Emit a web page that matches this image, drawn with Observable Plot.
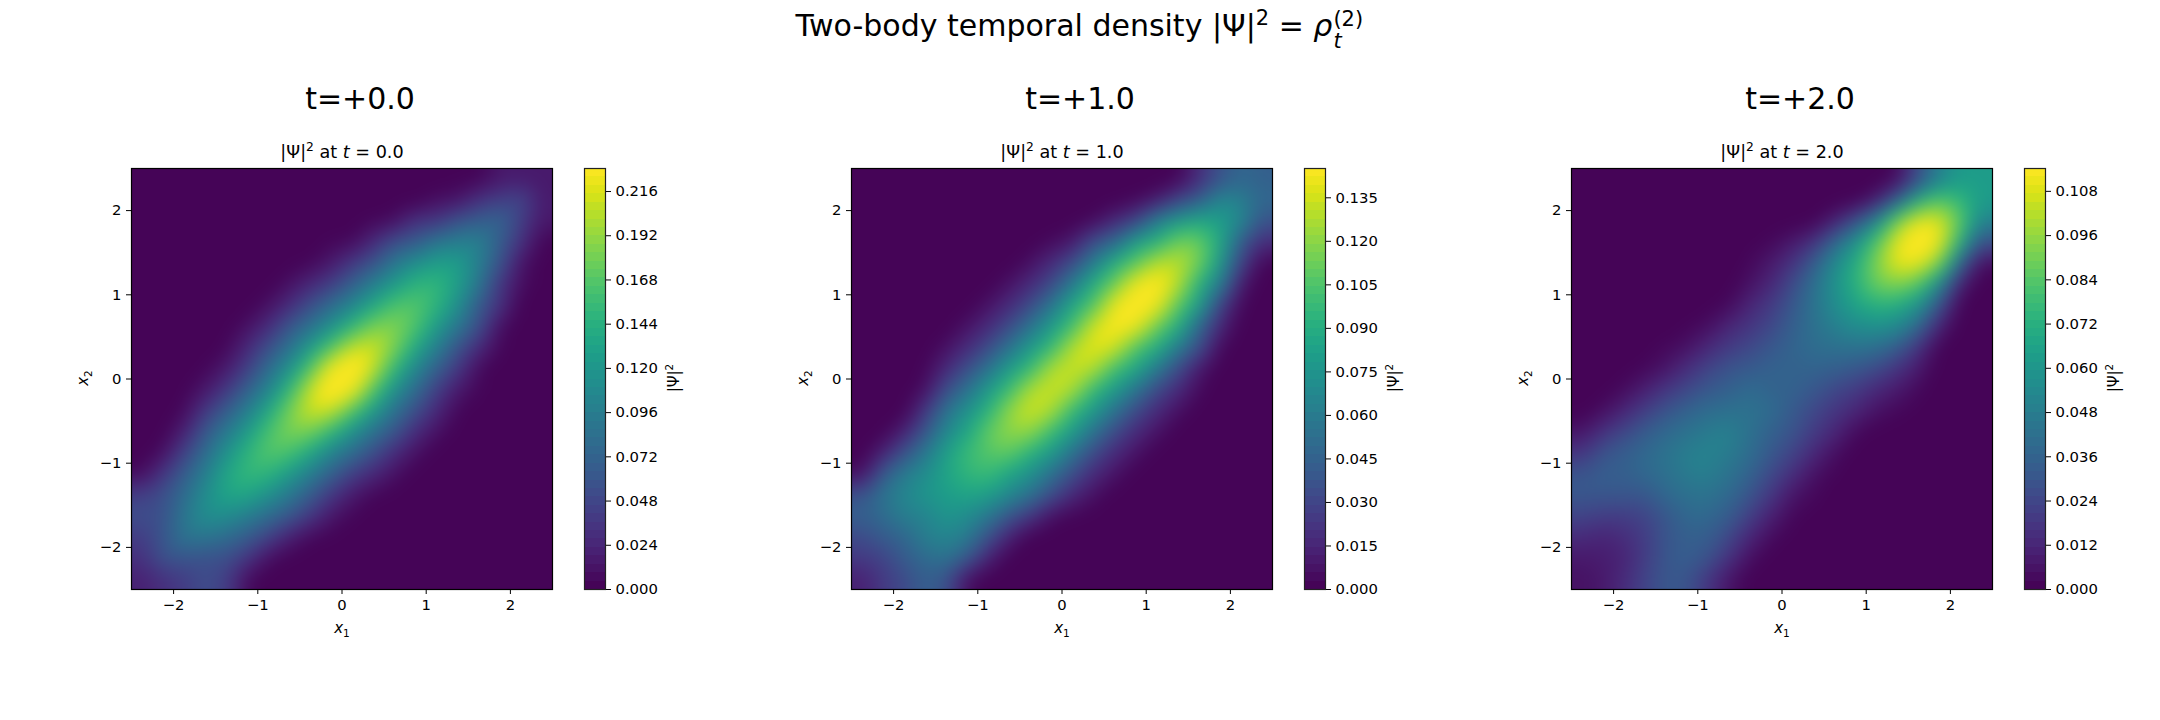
<!DOCTYPE html>
<html><head><meta charset="utf-8">
<script src="https://cdn.jsdelivr.net/npm/d3@7"></script>
<script src="https://cdn.jsdelivr.net/npm/@observablehq/plot@0.6"></script>
<style>
html,body{margin:0;padding:0;background:#fff;}
#page{position:relative;width:2160px;height:720px;overflow:hidden;font-family:"DejaVu Sans",sans-serif;color:#000;}
#page svg{position:absolute;overflow:visible;}
.t{position:absolute;white-space:nowrap;transform:translate(-50%,-50%);line-height:1;}
.r{transform:translate(-50%,-50%) rotate(-90deg);}
i{font-style:oblique;}
sup,sub{font-size:70%;line-height:0;}
</style></head><body><div id="page"></div>
<script>
// Density, in thousandths, on a 20×20 grid. The density mirrors across x1=x2, so each
// inner list is one off-diagonal band: list k holds the cells with |i-j|=k, ordered by the smaller index.
const bandsT0 = [
[22,55,85,110,132,150,165,180,208,240,240,208,182,165,148,125,97,70,45,15],
[33,60,88,110,132,146,160,178,205,225,205,180,162,146,126,96,66,42,18],
[42,58,80,97,114,124,135,150,166,166,150,136,124,112,88,58,33,16],
[52,55,66,80,92,97,104,116,124,116,106,98,90,66,38,15,5],
[42,36,45,61,66,70,80,86,86,80,70,60,54,33,11,3],
[10,12,22,37,38,44,55,60,55,44,38,28,12,2,0],
[1,3,8,15,17,26,29,29,26,17,9,6,2,0],
[0,1,3,5,6,11,11,11,6,5,1,0,0],
[0,0,1,1,2,2,2,2,1,0,0,0]];
const bandsT1 = [
[14,30,48,65,80,94,106,119,132,132,132,137,143,150,145,128,109,80,61,44],
[25,41,61,75,84,97,108,119,125,125,127,133,140,141,128,112,85,65,48],
[33,50,65,70,80,85,93,99,98,98,102,107,113,108,92,76,44,38],
[43,54,58,58,67,73,78,79,78,79,85,89,89,79,60,31,20],
[36,39,36,39,53,54,55,55,55,57,60,61,50,32,14,4],
[9,15,15,24,34,35,34,34,34,34,35,35,18,5,0],
[1,2,2,8,17,18,18,18,18,18,12,6,1,0],
[0,0,1,3,7,8,8,8,7,5,1,0,0],
[0,0,0,1,1,1,1,1,1,0,0,0]];
const bandsT2 = [
[6,9,15,24,38,47,49,48,42,36,35,40,49,65,87,108,118,105,74,63],
[8,12,21,31,42,48,47,42,39,35,36,42,55,72,91,108,108,82,63],
[14,21,30,38,43,43,40,35,32,31,34,43,57,70,82,88,68,52],
[23,30,34,38,38,35,31,29,25,25,31,41,53,57,52,37,30],
[30,33,33,32,29,25,23,20,18,20,26,33,37,29,13,7],
[29,28,24,21,18,15,13,12,12,13,17,17,12,2,0],
[18,16,12,10,7,6,5,4,6,8,8,2,0,0],
[7,5,4,3,3,2,1,1,3,3,0,0,0],
[1,1,1,1,0,0,0,0,1,0,0,0]];
const gridCoords = [-2.375,-2.125,-1.875,-1.625,-1.375,-1.125,-0.875,-0.625,-0.375,-0.125,0.125,0.375,0.625,0.875,1.125,1.375,1.625,1.875,2.125,2.375];
const times = ["0.0","1.0","2.0"];
const panelLabels = ["t=+0.0","t=+1.0","t=+2.0"];
const colorMaxes = [0.2285,0.1451,0.1142];
const barTicks = [
 [0,0.024,0.048,0.072,0.096,0.120,0.144,0.168,0.192,0.216],
 [0,0.015,0.030,0.045,0.060,0.075,0.090,0.105,0.120,0.135],
 [0,0.012,0.024,0.036,0.048,0.060,0.072,0.084,0.096,0.108]];
const axisTicks = [-2,-1,0,1,2];
const panels = [bandsT0,bandsT1,bandsT2];
const bandCount = 50;

const page = document.getElementById("page");
const font = {fontFamily:"DejaVu Sans",fontSize:"14.8px",color:"#000",background:"transparent"};
const fmt = d => d<0 ? "\u2212"+(-d) : String(d);
function label(html,x,y,size,cls){
  const e=document.createElement("div");e.className="t "+(cls||"");e.innerHTML=html;
  e.style.left=x+"px";e.style.top=y+"px";e.style.fontSize=size+"px";page.appendChild(e);
}
function put(svg,left,top){svg.style.left=left+"px";svg.style.top=top+"px";page.appendChild(svg);}
// smooth raster resampling of the read grid (Catmull-Rom), passed to Plot.raster as its interpolate option
function cubicRaster(index,w,h,X,Y,V){
  const n=gridCoords.length, out=new Float64Array(w*h);
  const x0=X[0],dx=X[1]-X[0],y0=Y[0],dy=Y[n]-Y[0];
  const cl=a=>a<0?0:a>n-1?n-1:a;
  const cr=(a,b,c,d,t)=>b+0.5*t*(c-a+t*(2*a-5*b+4*c-d+t*(3*(b-c)+d-a)));
  for(let py=0;py<h;py++){
    const gy=(py+0.5-y0)/dy,jy=Math.floor(gy),ty=gy-jy;
    for(let px=0;px<w;px++){
      const gx=(px+0.5-x0)/dx,jx=Math.floor(gx),tx=gx-jx;
      const col=[];
      for(let q=-1;q<=2;q++){
        const r=cl(jy+q)*n;
        col.push(cr(V[r+cl(jx-1)],V[r+cl(jx)],V[r+cl(jx+1)],V[r+cl(jx+2)],tx));
      }
      out[py*w+px]=Math.max(0,cr(col[0],col[1],col[2],col[3],ty));
    }
  }
  return out;
}

label('Two-body temporal density |Ψ|<sup>2</sup> = <i>ρ</i><span style="display:inline-block;position:relative;width:32px;height:0"><i style="position:absolute;left:1px;top:-5px;font-size:21px">t</i><span style="position:absolute;left:1px;bottom:6px;font-size:21px">(2)</span></span>',1080,26,30);

panels.forEach((bands,p)=>{
  const dx=720*p, m=colorMaxes[p];
  const levels=d3.range(bandCount).map(i=>m*i/bandCount);
  const color={type:"threshold",domain:levels.slice(1),range:levels.map((_,i)=>d3.interpolateViridis((i+0.5)/bandCount))};
  const ml=60,mt=3,mb=40,mr=3,W=421,H=421;
  const points=d3.cross(gridCoords.keys(),gridCoords.keys(),(j,i)=>{
    const v=(bands[Math.abs(i-j)]||[])[Math.min(i,j)]||0;
    return {x:gridCoords[i],y:gridCoords[j],v:v/1000};
  });
  const main=Plot.plot({
    width:W+ml+mr,height:H+mt+mb,marginLeft:ml,marginTop:mt,marginBottom:mb,marginRight:mr,style:font,
    x:{domain:[-2.5,2.5],label:null},y:{domain:[-2.5,2.5],label:null},color,
    marks:[
      Plot.raster(points,{x:"x",y:"y",fill:"v",interpolate:cubicRaster,pixelSize:1,blur:8}),
      Plot.frame({stroke:"#000",strokeWidth:1.2}),
      Plot.axisX({ticks:axisTicks,tickFormat:fmt,tickSize:5,tickPadding:5,label:null,stroke:"#000",fill:"#000"}),
      Plot.axisY({ticks:axisTicks,tickFormat:fmt,tickSize:5,tickPadding:5,label:null,stroke:"#000",fill:"#000"})
    ]});
  put(main,131+dx-ml,167.6-mt);
  const bar=Plot.plot({
    width:21+3+70,height:H+mt+mb,marginLeft:3,marginTop:mt,marginBottom:mb,marginRight:70,style:font,
    x:{domain:[0,1],axis:null},y:{domain:[0,m],label:null},color,
    marks:[
      Plot.rect(levels,{x1:0,x2:1,y1:d=>d,y2:d=>d+m/bandCount,fill:d=>d+m/bandCount/2,shapeRendering:"crispEdges"}),
      Plot.frame({stroke:"#222",strokeWidth:1.2}),
      Plot.axisY({anchor:"right",ticks:barTicks[p],tickFormat:".3f",tickSize:5,tickPadding:5,label:null,stroke:"#000",fill:"#000"})
    ]});
  put(bar,583.5+dx-3,167.6-mt);
  label(panelLabels[p],360+dx,99,30);
  label('|Ψ|<sup>2</sup> at <i>t</i> = '+times[p],342+dx,152.5,17.6);
  label('<i>x</i><sub>1</sub>',342+dx,628,15);
  label('<i>x</i><sub>2</sub>',83+dx,378,15,"r");
  label('|Ψ|<sup>2</sup>',674+dx,378,15,"r");
});
</script></body></html>
